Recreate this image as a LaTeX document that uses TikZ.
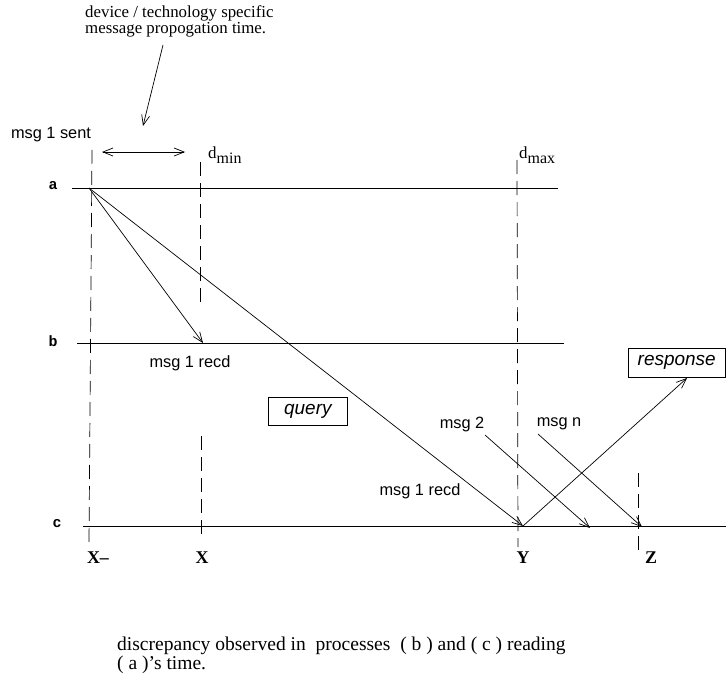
\documentclass[tikz,border=0pt]{standalone}
\usepackage{fontspec}
\setmainfont{Liberation Serif}
\setsansfont{Liberation Sans}
\setmonofont{Liberation Mono}
\usetikzlibrary{arrows.meta}
\begin{document}
\begin{tikzpicture}[x=1bp,y=-1bp,
  proc/.style={line width=0.8pt},
  vdash/.style={line width=0.7pt,dash pattern=on 14bp off 7bp},
  msg/.style={line width=0.7pt,-{Straight Barb[length=10bp,width=8bp]}},
  sanslbl/.style={font=\sffamily\fontsize{16.4}{18}\selectfont,inner sep=0pt},
  plbl/.style={font=\ttfamily\bfseries\fontsize{15}{17}\selectfont,inner sep=0pt},
  tlbl/.style={font=\bfseries\fontsize{18}{20}\selectfont,inner sep=0pt},
  boxlbl/.style={draw,line width=0.7pt,font=\sffamily\itshape\fontsize{19}{21}\selectfont,inner sep=0pt}]
\useasboundingbox (0,0) rectangle (726,677);
% process labels
\node[plbl] (la) at (53,186) {a};
\node[plbl] (lb) at (53,341) {b};
\node[plbl] (lc) at (57,524) {c};
% process lines
\coordinate (a0) at (72,188); \coordinate (a1) at (558,188);
\coordinate (b0) at (77,343); \coordinate (b1) at (564,343);
\coordinate (c0) at (83,526); \coordinate (c1) at (726,526);
\draw[proc] (a0) -- (a1);
\draw[proc] (b0) -- (b1);
\draw[proc] (c0) -- (c1);
% dashed verticals
\coordinate (xm0) at (92,150); \coordinate (xm1) at (89,542);
\coordinate (x0) at (200,162); \coordinate (x1) at (200,308);
\coordinate (x2) at (201,436); \coordinate (x3) at (201,536);
\coordinate (y0) at (517,160); \coordinate (y1) at (518,547);
\coordinate (z0) at (638,473); \coordinate (z1) at (638,551);
\draw[vdash] (xm0) -- (xm1);
\draw[vdash] (x0) -- (x1);
\draw[vdash] (x2) -- (x3);
\draw[vdash] (y0) -- (y1);
\draw[vdash] (z0) -- (z1);
% top annotation
\node[font=\fontsize{16.9}{17}\selectfont,align=left,inner sep=0pt,anchor=north west] (note) at (85,5) {device / technology specific\\message propogation time.};
\coordinate (n0) at (163,45); \coordinate (n1) at (143,126);
\draw[msg] (n0) -- (n1);
\coordinate (d0) at (102,152); \coordinate (d1) at (185,152);
\draw[line width=0.7pt,{Straight Barb[length=10bp,width=8bp]}-{Straight Barb[length=10bp,width=8bp]}] (d0) -- (d1);
\node[sanslbl] (sent) at (51,135) {msg 1 sent};
\node[font=\fontsize{17}{19}\selectfont,inner sep=0pt,anchor=base west] (dmin) at (208,158) {d\raisebox{-5bp}{\fontsize{16}{18}\selectfont min}};
\node[font=\fontsize{17}{19}\selectfont,inner sep=0pt,anchor=base west] (dmax) at (519,158) {d\raisebox{-5bp}{\fontsize{16}{18}\selectfont max}};
% messages
\coordinate (snd) at (89,188);
\coordinate (rb) at (203,343);
\coordinate (rc) at (523,526);
\draw[msg] (snd) -- (rb);
\draw[msg] (snd) -- (rc);
\node[sanslbl] (recb) at (190,363) {msg 1 recd};
\node[sanslbl] (recc) at (420,491) {msg 1 recd};
\node[boxlbl,minimum width=79bp,minimum height=28bp,anchor=north west] (query) at (268,397) {query};
\node[boxlbl,minimum width=97bp,minimum height=29bp,anchor=north east] (resp) at (725.5,348) {response};
\coordinate (respend) at (687,378);
\draw[msg] (rc) -- (respend);
\node[sanslbl] (m2) at (462,424) {msg 2};
\node[sanslbl] (mn) at (559,424) {msg n};
\coordinate (m2a) at (485,435); \coordinate (m2b) at (590,528);
\coordinate (mna) at (538,434); \coordinate (mnb) at (642,527);
\draw[msg] (m2a) -- (m2b);
\draw[msg] (mna) -- (mnb);
% time labels
\node[tlbl] (txm) at (98,558) {X\textendash};
\node[tlbl] (tx) at (202,558) {X};
\node[tlbl] (ty) at (523,558) {Y};
\node[tlbl] (tz) at (651,558) {Z};
% caption
\node[font=\fontsize{19.6}{15}\selectfont,align=left,inner sep=0pt,anchor=north west] (cap) at (117,637) {discrepancy observed in~ processes~ ( b ) and ( c ) reading\\( a )'s time.};
\end{tikzpicture}
\end{document}
